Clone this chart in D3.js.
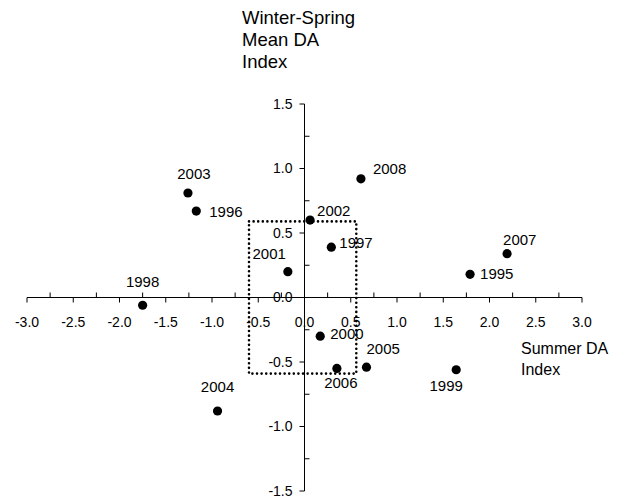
<!DOCTYPE html>
<html>
<head>
<meta charset="utf-8">
<script src="https://cdn.jsdelivr.net/npm/d3@7"></script>
<style>
  body { margin: 0; background: #fff; }
  svg text { font-family: "Liberation Sans", Arial, sans-serif; fill: #000; }
</style>
</head>
<body>
<div id="chart"></div>
<script>
// data
const years = [1995, 1996, 1997, 1998, 1999, 2000, 2001, 2002, 2003, 2004, 2005, 2006, 2007, 2008];
const summerDA = [1.79, -1.17, 0.29, -1.75, 1.64, 0.17, -0.18, 0.06, -1.26, -0.94, 0.67, 0.35, 2.19, 0.61];
const winterSpringDA = [0.18, 0.67, 0.39, -0.06, -0.56, -0.30, 0.20, 0.60, 0.81, -0.88, -0.54, -0.55, 0.34, 0.92];
const xTicks = [-3.0, -2.5, -2.0, -1.5, -1.0, -0.5, 0.0, 0.5, 1.0, 1.5, 2.0, 2.5, 3.0];
const yTicks = [-1.5, -1.0, -0.5, 0.0, 0.5, 1.0, 1.5];
const box = { x0: -0.6, x1: 0.56, y0: -0.59, y1: 0.59 };

// where each year label sits relative to its dot
const labelPlace = {
  1995: [10, 5, 'start'], 1996: [13, 6, 'start'], 1997: [8, 1, 'start'],
  1998: [0, -18, 'middle'], 1999: [-10, 21, 'middle'], 2000: [10, 3, 'start'],
  2001: [-2, -13, 'end'], 2002: [7, -4, 'start'], 2003: [6, -14, 'middle'],
  2004: [0, -19, 'middle'], 2005: [0, -13, 'start'], 2006: [4, 20, 'middle'],
  2007: [-4, -9, 'start'], 2008: [12, -5, 'start']
};

const width = 631, height = 498;
const svg = d3.select('#chart').append('svg')
  .attr('width', width).attr('height', height);

const x = d3.scaleLinear().domain([-3, 3]).range([27, 582]);
const y = d3.scaleLinear().domain([-1.5, 1.5]).range([491, 104]);
const fmt = v => d3.format('.1f')(v).replace('\u2212', '-');

// x axis through y=0
const minorX = d3.range(-3, 3.01, 0.25).filter(v => Math.abs(v * 2 - Math.round(v * 2)) > 0.01);
const gx = svg.append('g').attr('transform', `translate(0,${y(0)})`);
gx.append('line').attr('x1', x(-3)).attr('x2', x(3)).attr('stroke', '#000');
gx.selectAll('.maj').data(xTicks).enter().append('line')
  .attr('x1', d => x(d)).attr('x2', d => x(d)).attr('y1', 0).attr('y2', 5).attr('stroke', '#000');
gx.selectAll('.min').data(minorX).enter().append('line')
  .attr('x1', d => x(d)).attr('x2', d => x(d)).attr('y1', 0).attr('y2', -5).attr('stroke', '#000');
gx.selectAll('text').data(xTicks).enter().append('text')
  .attr('x', d => x(d)).attr('y', 29).attr('text-anchor', 'middle')
  .style('font-size', '14px').text(d => fmt(d));

// y axis through x=0
const minorY = d3.range(-1.5, 1.51, 0.25).filter(v => Math.abs(v * 2 - Math.round(v * 2)) > 0.01);
const gy = svg.append('g').attr('transform', `translate(${x(0)},0)`);
gy.append('line').attr('y1', y(-1.5)).attr('y2', y(1.5)).attr('stroke', '#000');
gy.selectAll('.maj').data(yTicks).enter().append('line')
  .attr('y1', d => y(d)).attr('y2', d => y(d)).attr('x1', 0).attr('x2', -5).attr('stroke', '#000');
gy.selectAll('.min').data(minorY).enter().append('line')
  .attr('y1', d => y(d)).attr('y2', d => y(d)).attr('x1', 0).attr('x2', 5).attr('stroke', '#000');
gy.selectAll('text').data(yTicks).enter().append('text')
  .attr('x', -12).attr('y', d => y(d)).attr('dy', '0.35em').attr('text-anchor', 'end')
  .style('font-size', '14px').text(d => fmt(d));

// dotted box
svg.append('rect')
  .attr('x', x(box.x0)).attr('y', y(box.y1))
  .attr('width', x(box.x1) - x(box.x0)).attr('height', y(box.y0) - y(box.y1))
  .attr('fill', 'none').attr('stroke', '#000').attr('stroke-width', 2.6)
  .attr('stroke-linecap', 'round').attr('stroke-dasharray', '0 4.6');

// points and year labels
const pts = years.map((yr, i) => ({ yr, sx: summerDA[i], wy: winterSpringDA[i] }));
svg.selectAll('circle').data(pts).enter().append('circle')
  .attr('cx', d => x(d.sx)).attr('cy', d => y(d.wy)).attr('r', 4.6).attr('fill', '#000');
svg.selectAll('.yr').data(pts).enter().append('text')
  .attr('x', d => x(d.sx) + labelPlace[d.yr][0])
  .attr('y', d => y(d.wy) + labelPlace[d.yr][1])
  .attr('text-anchor', d => labelPlace[d.yr][2])
  .style('font-size', '15px').text(d => d.yr);

// axis titles
const yTitle = svg.append('text').attr('x', 242).attr('y', 24).style('font-size', '18.5px');
['Winter-Spring', 'Mean DA', 'Index'].forEach((t, i) =>
  yTitle.append('tspan').attr('x', 242).attr('dy', i ? 22 : 0).text(t));
const xTitle = svg.append('text').attr('x', 521).attr('y', 354).style('font-size', '16px');
['Summer DA', 'Index'].forEach((t, i) =>
  xTitle.append('tspan').attr('x', 521).attr('dy', i ? 21 : 0).text(t));
</script>
</body>
</html>
